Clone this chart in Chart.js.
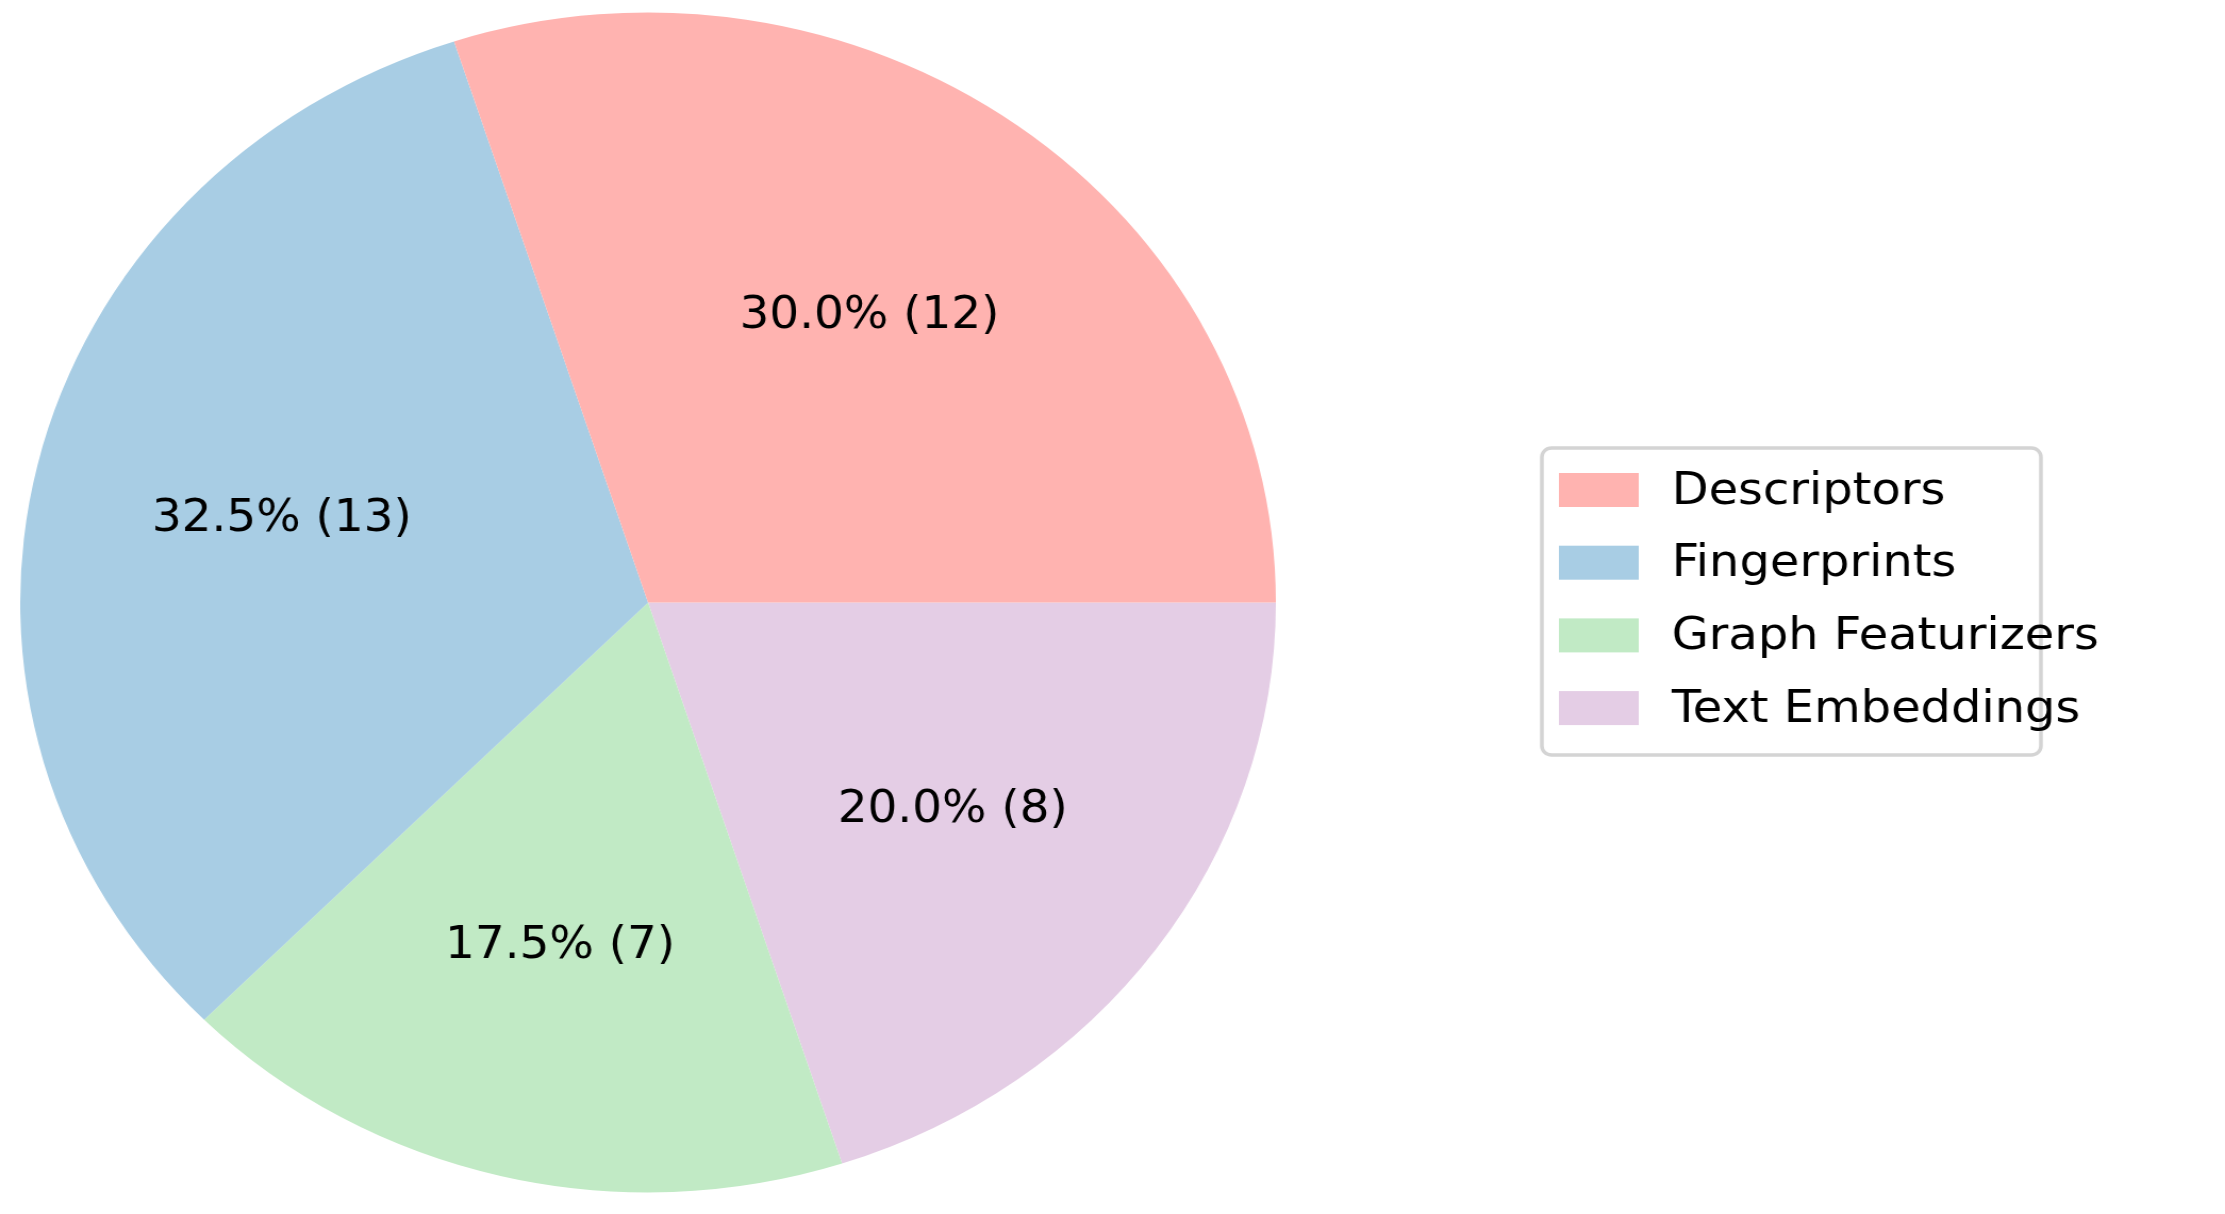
<!DOCTYPE html>
<html><head><meta charset="utf-8">
<script src="https://cdn.jsdelivr.net/npm/chart.js@4"></script>
<style>
html,body{margin:0;padding:0;background:#fff;overflow:hidden;width:2225px;height:1214px}
#wrap{width:2091px;height:1214px;transform:scaleX(1.0641);transform-origin:0 0}
</style></head><body>
<div id="wrap"><canvas id="c" width="2091" height="1214" style="width:2091px;height:1214px"></canvas></div>
<script>
const categories = ["Descriptors","Fingerprints","Graph Featurizers","Text Embeddings"];
const counts = [12,13,7,8];
const colors = ["#ffb3b0","#a8cde4","#c1eac5","#e4cde5"];
const FONT = "'DejaVu Sans', sans-serif";
const total = counts.reduce((a,b)=>a+b,0);
// Chart.js draws clockwise; matplotlib counter-clockwise from east -> reverse order, start at east
const rev = (a)=>a.slice().reverse();

const labelPlugin = {
  id:'pielabels',
  afterDatasetsDraw(chart){
    const ctx = chart.ctx;
    const meta = chart.getDatasetMeta(0);
    const data = chart.data.datasets[0].data;
    ctx.save();
    ctx.font = "44px " + FONT;
    ctx.fillStyle = "#000";
    ctx.textAlign = "center"; ctx.textBaseline = "middle";
    meta.data.forEach((arc,i)=>{
      const a = (arc.startAngle+arc.endAngle)/2;
      const r = arc.outerRadius*0.6;
      const v = data[i];
      ctx.fillText((v/total*100).toFixed(1)+"% ("+v+")", arc.x+Math.cos(a)*r, arc.y+Math.sin(a)*r);
    });
    ctx.restore();
  }
};
const legendPlugin = {
  id:'boxlegend',
  afterDraw(chart){
    const ctx = chart.ctx;
    ctx.save();
    const x0=1449,y0=448,w=469,h=307,rr=9;
    ctx.beginPath();
    ctx.roundRect(x0,y0,w,h,rr);
    ctx.fillStyle="#fff"; ctx.fill();
    ctx.lineWidth=3.5; ctx.strokeStyle="#d4d4d4"; ctx.stroke();
    ctx.font="45px "+FONT; ctx.textBaseline="middle"; ctx.textAlign="left";
    categories.forEach((c,i)=>{
      const yc = 490 + i*72.7;
      ctx.fillStyle=colors[i];
      ctx.fillRect(1465, yc-17, 75, 34);
      ctx.fillStyle="#000";
      ctx.fillText(c, 1571, yc+2);
    });
    ctx.restore();
  }
};
new Chart(document.getElementById('c'),{
  type:'pie',
  data:{labels:rev(categories),datasets:[{data:rev(counts),backgroundColor:rev(colors),borderWidth:0,hoverOffset:0}]},
  options:{
    responsive:false,animation:false,rotation:90,
    layout:{padding:{left:19,right:892,top:12,bottom:21}},
    plugins:{legend:{display:false},tooltip:{enabled:false}}
  },
  plugins:[labelPlugin,legendPlugin]
});
</script></body></html>
